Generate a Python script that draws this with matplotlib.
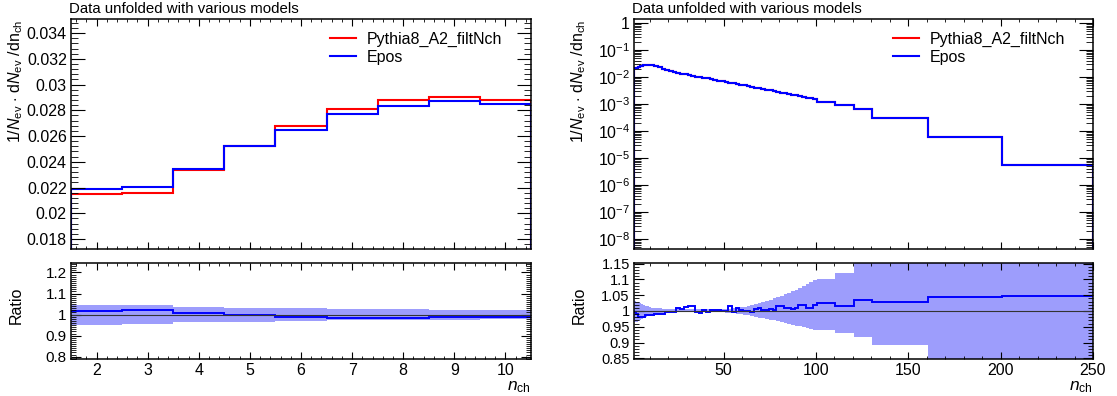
import numpy as np
import matplotlib.pyplot as plt
from matplotlib.ticker import MultipleLocator, FuncFormatter, LogLocator, NullFormatter

plt.rcParams['font.family'] = ['Liberation Sans', 'DejaVu Sans']
plt.rcParams['mathtext.fontset'] = 'custom'
plt.rcParams['mathtext.rm'] = 'Liberation Sans'
plt.rcParams['mathtext.it'] = 'Liberation Sans:italic'

# ---- left: low multiplicity zoom ----
l_edges = [1.5, 2.5, 3.5, 4.5, 5.5, 6.5, 7.5, 8.5, 9.5, 10.5]
l_pythia = [0.02148, 0.02161, 0.02334, 0.02519, 0.02681, 0.02808, 0.02883, 0.02906, 0.02880]
l_epos = [0.02187, 0.02205, 0.02347, 0.02519, 0.02645, 0.02769, 0.02834, 0.02870, 0.02847]
l_ratio = [1.018, 1.020, 1.006, 1.000, 0.987, 0.986, 0.983, 0.988, 0.989]
l_band_lo = [0.952, 0.956, 0.963, 0.967, 0.970, 0.973, 0.975, 0.976, 0.977]
l_band_hi = [1.046, 1.044, 1.037, 1.033, 1.030, 1.027, 1.025, 1.024, 1.023]

# ---- right: full range ----
r_edges = np.concatenate([np.arange(1.5, 10.5, 1.0), np.arange(10.5, 100.5, 2.0),
                          [100.5, 110.5, 120.5, 130.5, 160.5, 200.5, 250.0]])
r_epos = [0.0219, 0.0221, 0.0235, 0.0252, 0.0265, 0.0277, 0.0283, 0.0287, 0.0285,
          0.0275, 0.0252, 0.0228, 0.0205, 0.0183, 0.0163, 0.0150, 0.0140, 0.0131, 0.0124,
          0.0117, 0.0110, 0.0104, 0.0098, 0.0093, 0.0088, 0.0083, 0.0078, 0.0073, 0.0069,
          0.0066, 0.0062, 0.0058, 0.0055, 0.0052, 0.0049, 0.0046, 0.0043, 0.0040, 0.0038,
          0.0036, 0.0034, 0.0032, 0.0030, 0.0028, 0.0026, 0.0025, 0.0023, 0.0022, 0.0021,
          0.0019, 0.0018, 0.0017, 0.0016, 0.0015,
          0.0012, 0.00090, 0.00066, 0.00030, 6.0e-5, 5.6e-6]
# on the log scale the two models are indistinguishable
r_pythia = [0.0219, 0.0221, 0.0235, 0.0252, 0.0265, 0.0277, 0.0283, 0.0287, 0.0285,
            0.0275, 0.0252, 0.0228, 0.0205, 0.0183, 0.0163, 0.0150, 0.0140, 0.0131, 0.0124,
            0.0117, 0.0110, 0.0104, 0.0098, 0.0093, 0.0088, 0.0083, 0.0078, 0.0073, 0.0069,
            0.0066, 0.0062, 0.0058, 0.0055, 0.0052, 0.0049, 0.0046, 0.0043, 0.0040, 0.0038,
            0.0036, 0.0034, 0.0032, 0.0030, 0.0028, 0.0026, 0.0025, 0.0023, 0.0022, 0.0021,
            0.0019, 0.0018, 0.0017, 0.0016, 0.0015,
            0.00119, 0.00089, 0.00065, 0.000295, 5.9e-5, 5.5e-6]
r_ratio = [0.998, 0.990, 0.980, 0.980, 0.980, 0.980, 0.987, 0.987, 0.987,
           0.987, 0.990, 0.991, 0.991, 0.997, 0.997, 0.998, 1.010, 1.006, 1.014,
           1.015, 1.017, 0.998, 0.995, 1.003, 0.997, 1.004, 1.002, 1.003, 1.000,
           1.001, 1.016, 0.997, 1.008, 1.004, 1.000, 0.999, 0.998, 1.007, 1.008,
           1.004, 1.003, 1.006, 1.004, 1.015, 1.016, 1.010, 1.009, 1.007, 1.009,
           1.018, 1.019, 1.008, 1.009, 1.020,
           1.024, 1.015, 1.035, 1.030, 1.043, 1.048]
r_band_hi = [1.032, 1.030, 1.027, 1.024, 1.021, 1.019, 1.017, 1.015, 1.013,
             1.011, 1.009, 1.008, 1.007, 1.006, 1.005, 1.005, 1.005, 1.005, 1.005,
             1.005, 1.005, 1.005, 1.005, 1.005, 1.005, 1.005, 1.005, 1.005, 1.005,
             1.006, 1.007, 1.008, 1.010, 1.012, 1.014, 1.017, 1.020, 1.023, 1.026,
             1.029, 1.032, 1.036, 1.040, 1.044, 1.048, 1.053, 1.058, 1.063, 1.068,
             1.074, 1.080, 1.086, 1.092, 1.098,
             1.100, 1.120, 1.200, 1.250, 1.300, 1.350]
r_band_lo = [0.964, 0.966, 0.968, 0.971, 0.974, 0.977, 0.980, 0.983, 0.985,
             0.987, 0.990, 0.992, 0.994, 0.995, 0.996, 0.996, 0.996, 0.996, 0.996,
             0.996, 0.996, 0.996, 0.996, 0.996, 0.996, 0.996, 0.996, 0.996, 0.996,
             0.995, 0.994, 0.993, 0.991, 0.990, 0.988, 0.986, 0.984, 0.982, 0.979,
             0.977, 0.975, 0.972, 0.970, 0.967, 0.965, 0.962, 0.960, 0.957, 0.954,
             0.951, 0.948, 0.945, 0.942, 0.940,
             0.940, 0.930, 0.917, 0.893, 0.700, 0.650]

RED = '#ff0000'
BLUE = '#0000ff'
BAND = '#9d9dfc'
FS = 11.5
W, H = 1117, 396

fig = plt.figure(figsize=(W / 100, H / 100), dpi=100)


def rect(x0, y0, x1, y1):
    return [x0 / W, 1 - y1 / H, (x1 - x0) / W, (y1 - y0) / H]


def style(ax, ylen, xlen):
    ax.tick_params(which='both', direction='in', top=True, right=True, labelsize=FS, pad=3)
    ax.tick_params(axis='y', which='major', length=ylen)
    ax.tick_params(axis='y', which='minor', length=ylen / 2)
    ax.tick_params(axis='x', which='major', length=xlen)
    ax.tick_params(axis='x', which='minor', length=xlen / 2)
    for s in ax.spines.values():
        s.set_linewidth(1.1)


fmt = FuncFormatter(lambda v, p: ('%g' % round(v, 6)))


def logfmt(v, p):
    e = int(round(np.log10(v)))
    return '1' if e == 0 else r'$10^{%d}$' % e


panels = [
    (71, 531, 330, l_edges, l_pythia, l_epos, l_ratio, l_band_lo, l_band_hi, False),
    (634, 1093, 893, r_edges, r_pythia, r_epos, r_ratio, r_band_lo, r_band_hi, True),
]

for x0, x1, legx, edges, pyt, epo, rat, blo, bhi, islog in panels:
    top = fig.add_axes(rect(x0, 19, x1, 249))
    bot = fig.add_axes(rect(x0, 263, x1, 359))

    base = 1e-12 if islog else 0
    top.stairs(pyt, edges, baseline=base, color=RED, lw=1.5)
    top.stairs(epo, edges, baseline=base, color=BLUE, lw=1.5)
    top.set_xlim(edges[0], edges[-1])
    if islog:
        top.set_yscale('log')
        top.set_ylim(4.3e-9, 1.4)
        top.yaxis.set_major_locator(LogLocator(base=10, numticks=20))
        top.yaxis.set_minor_locator(LogLocator(base=10, subs=np.arange(2, 10), numticks=20))
        top.yaxis.set_major_formatter(FuncFormatter(logfmt))
        top.yaxis.set_minor_formatter(NullFormatter())
        top.xaxis.set_major_locator(MultipleLocator(50))
        top.xaxis.set_minor_locator(MultipleLocator(10))
    else:
        top.set_ylim(0.01722, 0.0351)
        top.yaxis.set_major_locator(MultipleLocator(0.002))
        top.yaxis.set_minor_locator(MultipleLocator(0.0004))
        top.yaxis.set_major_formatter(fmt)
        top.xaxis.set_major_locator(MultipleLocator(1))
        top.xaxis.set_minor_locator(MultipleLocator(0.2))
    top.tick_params(labelbottom=False)
    style(top, 10, 5)
    top.legend(['Pythia8_A2_filtNch', 'Epos'], loc='upper left',
               bbox_to_anchor=((legx - x0) / (x1 - x0), 0.945),
               frameon=False, fontsize=FS, handlelength=1.6, handletextpad=0.7,
               labelspacing=0.2, borderpad=0, borderaxespad=0)

    bot.stairs(bhi, edges, baseline=blo, fill=True, color=BAND, lw=0)
    bot.axhline(1.0, color='#333333', lw=0.8)
    bot.stairs(rat, edges, baseline=None, color=BLUE, lw=1.4)
    bot.set_xlim(edges[0], edges[-1])
    if islog:
        bot.set_ylim(0.848, 1.152)
        bot.yaxis.set_major_locator(MultipleLocator(0.05))
        bot.yaxis.set_minor_locator(MultipleLocator(0.01))
        bot.xaxis.set_major_locator(MultipleLocator(50))
        bot.xaxis.set_minor_locator(MultipleLocator(10))
    else:
        bot.set_ylim(0.789, 1.245)
        bot.yaxis.set_major_locator(MultipleLocator(0.1))
        bot.yaxis.set_minor_locator(MultipleLocator(0.01))
        bot.xaxis.set_major_locator(MultipleLocator(1))
        bot.xaxis.set_minor_locator(MultipleLocator(0.2))
    bot.yaxis.set_major_formatter(fmt)
    bot.xaxis.set_major_formatter(fmt)
    style(bot, 7, 5)
    bot.tick_params(axis='y', labelsize=10.5 if islog else 11)

    lx = x0 - 55
    fig.text((x0 - 2) / W, 1 - 13 / H, 'Data unfolded with various models', fontsize=10.8,
             ha='left', va='baseline')
    fig.text(lx / W, 1 - 20 / H, r'1/$N_{\mathrm{ev}}$ $\cdot$ d$N_{\mathrm{ev}}$ /dn$_{\mathrm{ch}}$',
             rotation=90, fontsize=FS, ha='center', va='top')
    fig.text(lx / W, 1 - 305 / H, 'Ratio', rotation=90, fontsize=FS, ha='center', va='center')
    fig.text(x1 / W, 1 - 390 / H, r'$n_{\mathrm{ch}}$', fontsize=FS + 1, ha='right', va='baseline')

fig.savefig('out.png', dpi=100)
